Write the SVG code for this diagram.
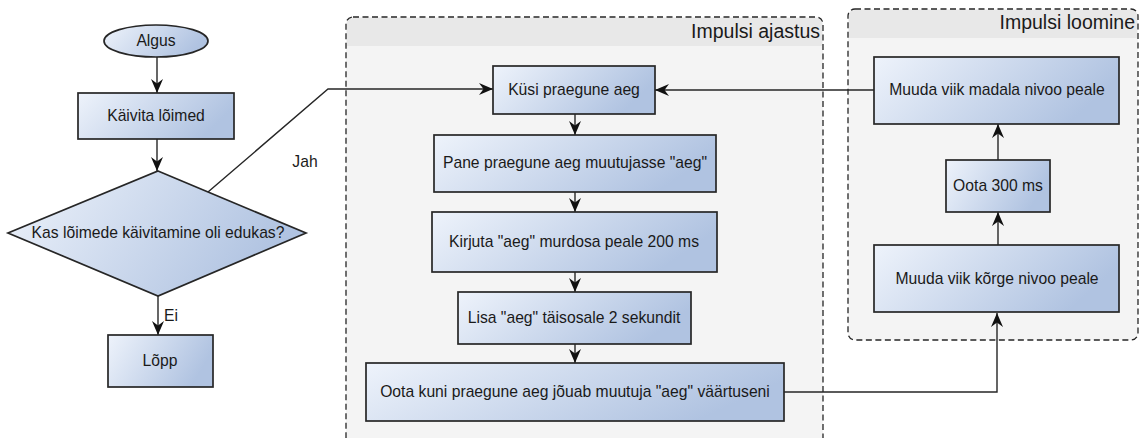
<svg xmlns="http://www.w3.org/2000/svg" width="1140" height="438" viewBox="0 0 1140 438">
  <style>
    .box { stroke: #262626; stroke-width: 1.7; fill: url(#boxFill); }
    .lbl { font-family: "Liberation Sans", Arial, sans-serif; font-size: 15.7px; fill: #1a1a1a; text-anchor: middle; }
    .title { font-family: "Liberation Sans", Arial, sans-serif; font-size: 19.5px; fill: #1a1a1a; text-anchor: end; }
    .edge { fill: none; stroke: #262626; stroke-width: 1.4; }
    .pool { fill: #f4f4f4; stroke: none; }
    .frame { fill: none; stroke: #262626; stroke-width: 1.3; stroke-dasharray: 6 3.5; }
    .band { fill: #e8e8e8; }
  </style>
  <defs>
    <linearGradient id="boxFill" x1="0" y1="0" x2="1" y2="0.3">
      <stop offset="0" stop-color="#eef3fb"/>
      <stop offset="1" stop-color="#b0c3e1"/>
    </linearGradient>
    <marker id="arrow" viewBox="0 0 14 12" refX="14" refY="6" markerWidth="14" markerHeight="12" markerUnits="userSpaceOnUse" orient="auto">
      <path d="M0,0 L14,6 L0,12 L4.5,6 z" fill="#111"/>
    </marker>
  </defs>

  <rect width="1140" height="438" fill="#ffffff"/>

  <!-- swimlane: Impulsi ajastus -->
  <g id="lane-ajastus">
    <rect class="pool" x="346" y="17" width="477" height="440" rx="7"/>
    <path class="band" d="M347,46 V24 Q347,18 353,18 H816 Q822,18 822,24 V46 Z"/>
    <rect class="frame" x="346" y="17" width="477" height="440" rx="7"/>
    <text class="title" x="820" y="38">Impulsi ajastus</text>
  </g>

  <!-- swimlane: Impulsi loomine -->
  <g id="lane-loomine">
    <rect class="pool" x="848" y="9" width="290" height="331" rx="7"/>
    <path class="band" d="M849,38 V16 Q849,10 855,10 H1131 Q1137,10 1137,16 V38 Z"/>
    <rect class="frame" x="848" y="9" width="290" height="331" rx="7"/>
    <text class="title" x="1135" y="29">Impulsi loomine</text>
  </g>

  <!-- connectors -->
  <g id="connectors">
    <line class="edge" x1="157" y1="57" x2="157" y2="93" marker-end="url(#arrow)"/>
    <line class="edge" x1="157" y1="139" x2="157" y2="171" marker-end="url(#arrow)"/>
    <line class="edge" x1="158" y1="296" x2="158" y2="335" marker-end="url(#arrow)"/>
    <polyline class="edge" points="208,192 328,89 493,89" marker-end="url(#arrow)"/>
    <line class="edge" x1="575" y1="114" x2="575" y2="135" marker-end="url(#arrow)"/>
    <line class="edge" x1="575" y1="192" x2="575" y2="212" marker-end="url(#arrow)"/>
    <line class="edge" x1="575" y1="272" x2="575" y2="292" marker-end="url(#arrow)"/>
    <line class="edge" x1="575" y1="344" x2="575" y2="363" marker-end="url(#arrow)"/>
    <polyline class="edge" points="784,392 997,392 997,313" marker-end="url(#arrow)"/>
    <line class="edge" x1="998" y1="245" x2="998" y2="212" marker-end="url(#arrow)"/>
    <line class="edge" x1="998" y1="160" x2="998" y2="124" marker-end="url(#arrow)"/>
    <line class="edge" x1="874" y1="90" x2="655" y2="90" marker-end="url(#arrow)"/>
    <text class="lbl" x="305" y="167">Jah</text>
    <text class="lbl" x="171" y="321">Ei</text>
  </g>

  <!-- main flow -->
  <g id="algus">
    <ellipse class="box" cx="156" cy="41" rx="52" ry="16"/>
    <text class="lbl" x="156" y="46">Algus</text>
  </g>
  <g id="kaivita">
    <rect class="box" x="78" y="93" width="156" height="46"/>
    <text class="lbl" x="156" y="121">Käivita lõimed</text>
  </g>
  <g id="kontroll">
    <polygon class="box" points="158,171 306,233 158,296 8,233"/>
    <text class="lbl" x="158" y="238">Kas lõimede käivitamine oli edukas?</text>
  </g>
  <g id="lopp">
    <rect class="box" x="108" y="335" width="105" height="52"/>
    <text class="lbl" x="160" y="366">Lõpp</text>
  </g>

  <!-- timing lane -->
  <g id="kusi">
    <rect class="box" x="493" y="66" width="162" height="48"/>
    <text class="lbl" x="574" y="95">Küsi praegune aeg</text>
  </g>
  <g id="pane">
    <rect class="box" x="434" y="135" width="282" height="57"/>
    <text class="lbl" x="575" y="168">Pane praegune aeg muutujasse "aeg"</text>
  </g>
  <g id="kirjuta">
    <rect class="box" x="432" y="212" width="285" height="60"/>
    <text class="lbl" x="574" y="247">Kirjuta "aeg" murdosa peale 200 ms</text>
  </g>
  <g id="lisa">
    <rect class="box" x="458" y="292" width="233" height="52"/>
    <text class="lbl" x="574" y="323">Lisa "aeg" täisosale 2 sekundit</text>
  </g>
  <g id="oota-kuni">
    <rect class="box" x="366" y="363" width="418" height="58"/>
    <text class="lbl" x="575" y="397">Oota kuni praegune aeg jõuab muutuja "aeg" väärtuseni</text>
  </g>

  <!-- pulse lane -->
  <g id="madal">
    <rect class="box" x="874" y="57" width="245" height="67"/>
    <text class="lbl" x="997" y="95">Muuda viik madala nivoo peale</text>
  </g>
  <g id="oota-300">
    <rect class="box" x="946" y="160" width="104" height="52"/>
    <text class="lbl" x="998" y="191">Oota 300 ms</text>
  </g>
  <g id="korge">
    <rect class="box" x="874" y="245" width="245" height="67"/>
    <text class="lbl" x="997" y="284">Muuda viik kõrge nivoo peale</text>
  </g>
</svg>
